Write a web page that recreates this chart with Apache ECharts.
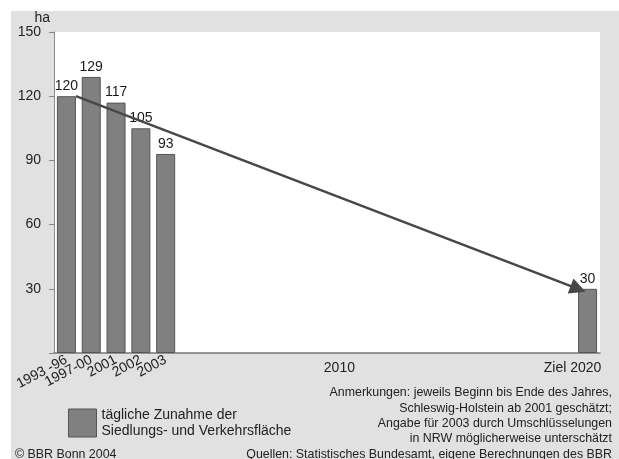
<!DOCTYPE html>
<html>
<head>
<meta charset="utf-8">
<script src="https://cdn.jsdelivr.net/npm/echarts@6/dist/echarts.min.js"></script>
<style>
html,body{margin:0;padding:0;background:#fff;}
#wrap{position:absolute;left:0;top:0;width:619px;height:459px;background:#fff;overflow:hidden;}
#chart{position:absolute;left:11px;top:11px;width:608px;height:448px;background:#e1e1e1;}
</style>
</head>
<body>
<div id="wrap"><div id="chart"></div></div>
<script>
// ---- data ----
const categories = ['1993 -96','1997-00','2001','2002','2003',
  '2004','2005','2006','2007','2008','2009','2010','2011','2012','2013','2014','2015','2016','2017','2018','2019','2020'];
const values = [120,129,117,105,93,
  null,null,null,null,null,null,null,null,null,null,null,null,null,null,null,null,30];
const rotatedLabels = ['1993 -96','1997-00','2001','2002','2003'];
const flatLabels = {'2010':'2010','2020':'Ziel 2020'};
const yTicks = [30,60,90,120,150];
const trendStart = 120;   // value at start of arrow
const trendEnd = 30;      // target value 2020
const seriesName = 'tägliche Zunahme der Siedlungs- und Verkehrsfläche';
const notes = ['Anmerkungen: jeweils Beginn bis Ende des Jahres,',
  'Schleswig-Holstein ab 2001 geschätzt;',
  'Angabe für 2003 durch Umschlüsselungen',
  'in NRW möglicherweise unterschätzt'];
const sourceText = 'Quellen: Statistisches Bundesamt, eigene Berechnungen des BBR';
const copyText = '© BBR Bonn 2004';

const FONT = '"Liberation Sans", Arial, Helvetica, sans-serif';
const chart = echarts.init(document.getElementById('chart'), null, {renderer:'canvas'});
const nCat = categories.length;
const halfBar = 0.383;

const graphics = notes.map(function(t,i){
  return {type:'text', x:601, y:382+i*15.3, silent:true,
    style:{text:t, font:'12.4px '+FONT, fill:'#222', textAlign:'right', textVerticalAlign:'middle'}};
});
graphics.push({type:'text', x:601, y:444, silent:true,
  style:{text:sourceText, font:'12.4px '+FONT, fill:'#222', textAlign:'right', textVerticalAlign:'middle'}});
graphics.push({type:'text', x:4, y:444, silent:true,
  style:{text:copyText, font:'12.4px '+FONT, fill:'#222', textAlign:'left', textVerticalAlign:'middle'}});

const option = {
  animation:false,
  textStyle:{fontFamily:FONT},
  grid:{left:43, top:21, right:19, bottom:106, show:true, backgroundColor:'#ffffff', borderWidth:0},
  legend:{
    left:52, top:391, itemWidth:28, itemHeight:28, icon:'rect', itemGap:6,
    data:[seriesName],
    formatter:function(n){return 'tägliche Zunahme der\nSiedlungs- und Verkehrsfläche';},
    textStyle:{fontSize:14, lineHeight:16, color:'#222', fontFamily:FONT},
    itemStyle:{color:'#808080', borderColor:'#555', borderWidth:1}
  },
  xAxis:[
    {type:'category', data:categories, position:'bottom', boundaryGap:true,
     axisLine:{lineStyle:{color:'#777', width:1.5}}, axisTick:{show:false},
     axisLabel:{interval:0, rotate:28, margin:6, fontSize:14, color:'#222', fontFamily:FONT,
       formatter:function(v,i){return i<rotatedLabels.length ? rotatedLabels[i] : '';}}},
    {type:'category', data:categories, position:'bottom', boundaryGap:true,
     axisLine:{show:false}, axisTick:{show:false},
     axisLabel:{interval:0, margin:8, fontSize:14, color:'#222', fontFamily:FONT,
       formatter:function(v){
         if(v==='2020') return '{r|'+flatLabels[v]+'}';
         return flatLabels[v] || '';
       },
       rich:{r:{fontSize:14, color:'#222', fontFamily:FONT, padding:[0,30,0,0]}}}},
    {type:'value', min:0, max:nCat, show:false}
  ],
  yAxis:{
    type:'value', min:0, max:150, interval:30,
    name:'ha', nameLocation:'end', nameGap:5,
    nameTextStyle:{fontSize:14, color:'#222', align:'right', padding:[0,4,0,0], fontFamily:FONT},
    axisLine:{show:true, lineStyle:{color:'#888', width:1}},
    axisTick:{show:true, length:5, lineStyle:{color:'#888'}},
    splitLine:{show:false},
    axisLabel:{fontSize:14, color:'#222', margin:13, fontFamily:FONT,
      formatter:function(v){return yTicks.indexOf(v)>=0 ? String(v) : '';}}
  },
  series:[
    {name:seriesName, type:'bar', data:values, xAxisIndex:0, barWidth:19,
     itemStyle:{color:'#808080', borderColor:'#555', borderWidth:1},
     label:{show:true, position:'top', distance:3, fontSize:14, color:'#1a1a1a', fontFamily:FONT}},
    {type:'line', xAxisIndex:2, data:[], silent:true,
     markLine:{silent:true, symbol:['none','triangle'], symbolSize:16,
       lineStyle:{color:'#474747', width:2.5, type:'solid'}, label:{show:false},
       data:[[{coord:[0.5+halfBar, trendStart]},{coord:[nCat-0.5-halfBar, trendEnd]}]]}}
  ],
  graphic:graphics
};
chart.setOption(option);
</script>
</body>
</html>
